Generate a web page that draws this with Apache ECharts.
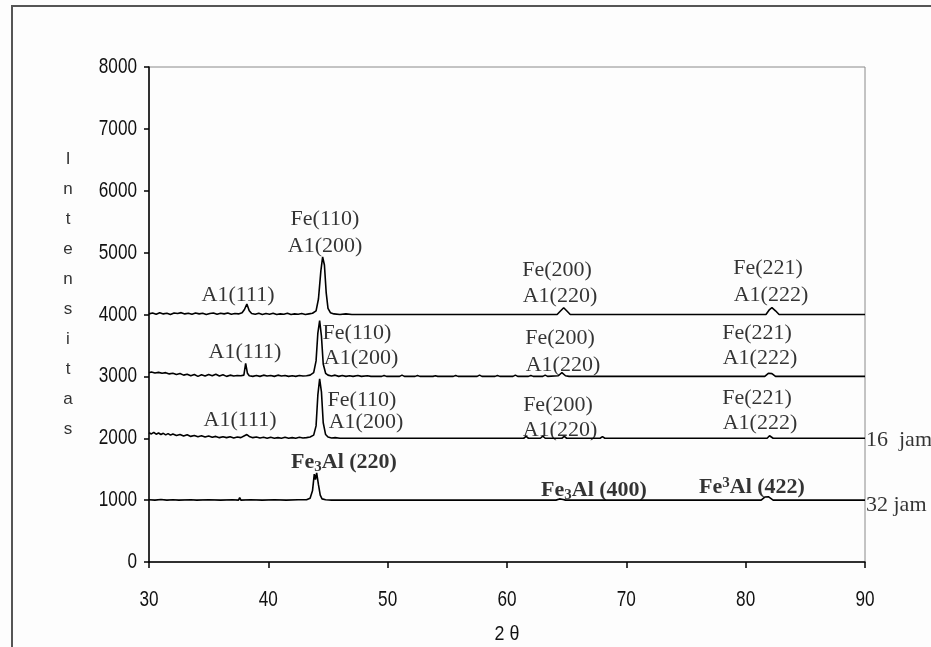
<!DOCTYPE html>
<html>
<head>
<meta charset="utf-8">
<script src="https://cdn.jsdelivr.net/npm/echarts@6/dist/echarts.min.js"></script>
<style>
html,body{margin:0;padding:0;background:#fdfdfd;}
#c{width:931px;height:647px;}
</style>
</head>
<body>
<div id="c"></div>
<script>
// ---- data (2θ, intensity) ----
const traceTop = [[30,4010],[30.3,4025],[30.6,4005],[30.9,4030],[31.2,4010],[31.5,4020],[31.8,4000],[32.1,4025],[32.4,4015],[32.7,4030],[33.0,4010],[33.3,4020],[33.6,4005],[33.9,4025],[34.2,4010],[34.5,4020],[34.8,4000],[35.1,4015],[35.4,4025],[35.7,4005],[36.0,4020],[36.3,4010],[36.6,4025],[36.9,4005],[37.2,4015],[37.5,4010],[37.8,4030],[38.0,4080],[38.2,4170],[38.4,4060],[38.6,4015],[38.9,4005],[39.2,4020],[39.5,4000],[39.8,4015],[40.1,4005],[40.4,4020],[40.7,4000],[41.0,4010],[41.3,4005],[41.6,4020],[41.9,4000],[42.2,4010],[42.5,4005],[42.8,4015],[43.1,4000],[43.4,4010],[43.7,4020],[44.0,4060],[44.2,4250],[44.4,4700],[44.55,4930],[44.7,4800],[44.85,4350],[45.0,4100],[45.2,4030],[45.5,4010],[46.0,4000],[46.5,4010],[47.0,4000],[64.2,4000],[64.5,4060],[64.75,4110],[65.0,4060],[65.3,4000],[81.7,4000],[82.0,4080],[82.2,4110],[82.5,4060],[82.8,4000],[90,4000]];

const traceMid = [[30.0,3060],[30.2,3070],[30.5,3055],[30.8,3065],[31.1,3050],[31.4,3060],[31.7,3040],[32.0,3050],[32.3,3030],[32.6,3045],[32.9,3020],[33.2,3035],[33.5,3010],[33.8,3030],[34.1,3000],[34.4,3025],[34.7,3005],[35.0,3030],[35.3,3010],[35.6,3035],[35.9,3005],[36.2,3025],[36.5,3000],[36.8,3020],[37.1,3005],[37.4,3015],[37.7,3010],[37.95,3020],[38.1,3210],[38.25,3050],[38.4,3010],[38.7,3000],[39.0,3015],[39.3,3000],[39.6,3020],[39.9,3005],[40.2,3015],[40.5,3000],[40.8,3020],[41.1,3005],[41.4,3015],[41.7,3000],[42.0,3010],[42.3,3000],[42.6,3015],[42.9,3005],[43.2,3010],[43.5,3020],[43.8,3060],[44.0,3250],[44.15,3700],[44.3,3900],[44.45,3650],[44.6,3200],[44.8,3050],[45.0,3020],[45.3,3005],[45.6,3020],[45.9,3000],[46.2,3015],[46.5,3000],[46.8,3010],[47.1,3000],[47.5,3015],[47.8,3000],[48.3,3010],[48.6,3000],[49.5,3000],[49.7,3015],[49.9,3000],[51.0,3000],[51.2,3020],[51.4,3000],[52.3,3000],[52.5,3015],[52.7,3000],[53.8,3000],[54.0,3010],[54.2,3000],[55.5,3000],[55.7,3015],[55.9,3000],[57.5,3000],[57.7,3020],[57.9,3000],[59.0,3000],[59.2,3015],[59.4,3000],[60.5,3000],[60.7,3020],[60.9,3000],[61.8,3000],[62.0,3015],[62.2,3000],[63.0,3000],[63.2,3020],[63.4,3000],[64.3,3010],[64.6,3060],[64.9,3010],[65.2,3000],[81.6,3000],[81.9,3050],[82.2,3045],[82.5,3000],[90,3000]];

const trace16jam = [[30.0,2090],[30.2,2070],[30.4,2095],[30.6,2065],[30.8,2085],[31.0,2060],[31.2,2080],[31.4,2055],[31.6,2075],[31.8,2050],[32.0,2070],[32.3,2045],[32.6,2060],[32.9,2035],[33.2,2055],[33.5,2030],[33.8,2045],[34.1,2025],[34.4,2040],[34.7,2020],[35.0,2035],[35.3,2015],[35.6,2030],[35.9,2010],[36.2,2025],[36.5,2010],[36.8,2025],[37.1,2005],[37.4,2020],[37.7,2010],[38.0,2040],[38.2,2060],[38.4,2030],[38.7,2010],[39.0,2020],[39.3,2005],[39.6,2015],[39.9,2000],[40.2,2015],[40.5,2000],[40.8,2010],[41.1,2000],[41.4,2015],[41.7,2000],[42.0,2010],[42.3,2000],[42.6,2015],[42.9,2005],[43.2,2010],[43.5,2020],[43.8,2050],[44.0,2200],[44.15,2700],[44.3,2960],[44.45,2750],[44.6,2250],[44.8,2060],[45.0,2020],[45.3,2005],[45.6,2010],[46.0,2000],[61.4,2000],[61.6,2030],[61.8,2000],[62.8,2000],[63.0,2035],[63.2,2000],[64.6,2000],[64.8,2030],[65.0,2000],[67.8,2000],[68.0,2025],[68.2,2000],[73.9,2000],[74.0,1975],[74.1,2000],[81.8,2000],[82.0,2040],[82.3,2000],[85.3,2000],[85.4,1978],[85.5,2000],[87.0,2000],[87.1,1978],[87.2,2000],[90,2000]];

const trace32jam = [[30.0,1005],[30.5,1000],[31.0,1010],[31.5,1000],[32.0,1005],[32.5,1000],[33.5,1005],[34.0,1000],[35.0,1005],[36.0,1000],[37.0,1005],[37.5,1000],[37.6,1040],[37.7,1000],[38.5,1005],[39.5,1000],[40.5,1005],[41.5,1000],[42.5,1005],[43.2,1005],[43.5,1030],[43.7,1150],[43.85,1420],[43.95,1330],[44.05,1440],[44.2,1250],[44.35,1080],[44.5,1020],[44.8,1005],[45.3,1000],[46.5,1000],[46.6,1015],[46.7,1000],[47.5,1000],[47.6,1015],[47.7,1000],[50.4,1000],[50.5,1015],[50.6,1000],[52.1,1000],[52.2,1015],[52.3,1000],[53.7,1000],[53.8,1015],[53.9,1000],[58.3,1000],[58.4,1015],[58.5,1000],[59.7,1000],[59.8,1020],[59.9,1000],[64.1,1000],[64.4,1020],[64.7,1010],[64.9,1000],[81.3,1000],[81.6,1050],[81.9,1055],[82.3,1000],[90,1000]];

// peak labels: [2θ, intensity, text]
const peakLabels = [
  [37.46,4315,'A1(111)'],[44.75,5543,'Fe(110)'],[44.75,5107,'A1(200)'],
  [64.19,4719,'Fe(200)'],[64.44,4299,'A1(220)'],[81.87,4751,'Fe(221)'],[82.12,4315,'A1(222)'],
  [38.04,3394,'A1(111)'],[47.43,3701,'Fe(110)'],[47.77,3297,'A1(200)'],
  [64.44,3620,'Fe(200)'],[64.69,3184,'A1(220)'],[80.95,3701,'Fe(221)'],[81.2,3297,'A1(222)'],
  [37.63,2295,'A1(111)'],[47.85,2618,'Fe(110)'],[48.18,2262,'A1(200)'],
  [64.27,2537,'Fe(200)'],[64.44,2133,'A1(220)'],[80.95,2650,'Fe(221)'],[81.2,2246,'A1(222)']
];
const fe3alLabels = [
  [46.34,1616,'{t|Fe}{s|3}{t|Al (220)}'],
  [67.29,1163,'{t|Fe}{s|3}{t|Al (400)}'],
  [80.53,1212,'{t|Fe}{p|3}{t|Al (422)}']
];
const timeLabels = [[90,1975,'16  jam'],[90,925,'32 jam']];

const xTickValues = [30,40,50,60,70,80,90];
const xTickLabels = ['30','40','50','60','70','80','90'];
const yTickValues = [0,1000,2000,3000,4000,5000,6000,7000,8000];
const yTickLabels = ['0','1000','2000','3000','4000','5000','6000','7000','8000'];
const yName = 'Intensitas';
const xName = '2 θ';

const sans = "'Liberation Sans',Arial,sans-serif";
const serif = "'Liberation Serif','Times New Roman',serif";

const chart = echarts.init(document.getElementById('c'), null, {renderer:'canvas'});
const lineStyle = {color:'#000', width:1.6};
function traceSeries(d){
  return {type:'line', data:d, showSymbol:false, symbol:'none', lineStyle:lineStyle, silent:true, animation:false, z:3};
}
chart.setOption({
  backgroundColor:'#fdfdfd',
  animation:false,
  grid:{left:149, right:66, top:67, bottom:85, show:true, borderColor:'#8a8a8a', borderWidth:1, backgroundColor:'transparent', outerBoundsMode:'none'},
  xAxis:{type:'value', min:xTickValues[0], max:xTickValues[xTickValues.length-1], interval:10,
    axisLine:{show:true, lineStyle:{color:'#000', width:1.5}},
    axisTick:{show:true, inside:false, length:6, lineStyle:{color:'#000', width:1.5}},
    axisLabel:{show:false},
    splitLine:{show:false}},
  yAxis:{type:'value', min:yTickValues[0], max:yTickValues[yTickValues.length-1], interval:1000,
    axisLine:{show:true, lineStyle:{color:'#000', width:1.5}},
    axisTick:{show:true, inside:false, length:5, lineStyle:{color:'#000', width:1.5}},
    axisLabel:{show:false},
    splitLine:{show:false}},
  series:[
    traceSeries(traceTop), traceSeries(traceMid), traceSeries(trace16jam), traceSeries(trace32jam),
    {type:'scatter', data:peakLabels.map(p=>({value:[p[0],p[1]], name:p[2]})), symbolSize:0, silent:true, z:5,
      label:{show:true, position:'inside', formatter:'{b}', fontFamily:serif, fontSize:22, color:'#000'}},
    {type:'scatter', data:fe3alLabels.map(p=>({value:[p[0],p[1]], name:p[2]})), symbolSize:0, silent:true, z:5,
      label:{show:true, position:'inside', formatter:'{b}', color:'#000',
        rich:{t:{fontFamily:serif, fontSize:22, fontWeight:'bold', color:'#000'},
              s:{fontFamily:serif, fontSize:15, fontWeight:'bold', color:'#000', padding:[10,0,0,0]},
              p:{fontFamily:serif, fontSize:15, fontWeight:'bold', color:'#000', padding:[0,0,8,0]}}}},
    {type:'scatter', data:timeLabels.map(p=>({value:[p[0],p[1]], name:p[2]})), symbolSize:0, silent:true, z:5, clip:false,
      label:{show:true, position:'right', distance:1, formatter:'{b}', fontFamily:serif, fontSize:22, color:'#000'}}
  ]
});

// condensed tick labels positioned through the axes' own scales
const g = [
  {type:'rect', shape:{x:12, y:6, width:940, height:660}, style:{fill:'none', stroke:'#555', lineWidth:2}, silent:true, z:-1},
  {type:'text', x:68, y:144, style:{text:yName.split('').join('\n'), fontFamily:sans, fontSize:17, lineHeight:30, fill:'#333', align:'center'}, silent:true}
];
yTickValues.forEach((v,i)=>{
  const p = chart.convertToPixel({gridIndex:0}, [xTickValues[0], v]);
  g.push({type:'text', x:p[0]-12, y:p[1], scaleX:0.78, silent:true,
    style:{text:yTickLabels[i], fontFamily:sans, fontSize:22, fill:'#111', align:'right', verticalAlign:'middle'}});
});
xTickValues.forEach((v,i)=>{
  const p = chart.convertToPixel({gridIndex:0}, [v, yTickValues[0]]);
  g.push({type:'text', x:p[0], y:p[1]+38, scaleX:0.78, silent:true,
    style:{text:xTickLabels[i], fontFamily:sans, fontSize:22, fill:'#111', align:'center', verticalAlign:'middle'}});
});
{
  const a = chart.convertToPixel({gridIndex:0}, [xTickValues[0], yTickValues[0]]);
  const b = chart.convertToPixel({gridIndex:0}, [xTickValues[xTickValues.length-1], yTickValues[0]]);
  g.push({type:'text', x:(a[0]+b[0])/2, y:a[1]+72, scaleX:0.85, silent:true,
    style:{text:xName, fontFamily:sans, fontSize:21, fill:'#111', align:'center', verticalAlign:'middle'}});
}
chart.setOption({graphic:g});
</script>
</body>
</html>
